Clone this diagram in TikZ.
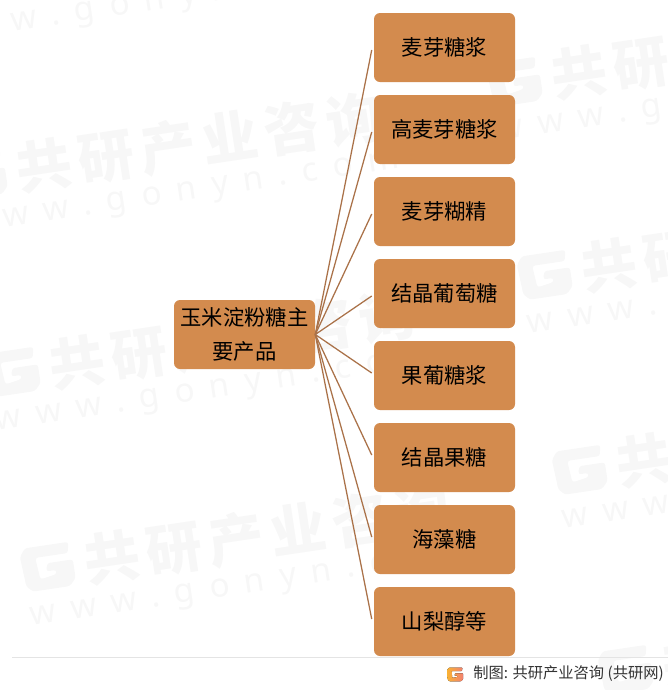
\documentclass[tikz,border=0pt]{standalone}
\usepackage{fontspec}
\setmainfont{Noto Sans CJK SC}
\newfontfamily\wmheadfont[LetterSpace=12]{Noto Sans CJK SC}
\newfontfamily\wmurlfont[LetterSpace=45]{Noto Sans}
\definecolor{boxfill}{HTML}{D38B4E}
\definecolor{edgecol}{HTML}{AA7249}
\definecolor{wmcol}{HTML}{F7F7F7}
\definecolor{rulecol}{HTML}{E4E4E4}
\definecolor{credit}{HTML}{333333}
\definecolor{logoA}{HTML}{F9B233}
\definecolor{logoB}{HTML}{F28070}
\tikzset{
  px/.style={x=0.75pt,y=-0.75pt},
  topicbox/.style={fill=boxfill,rounded corners=4.5pt,minimum width=105.75pt,minimum height=51.75pt,inner sep=0pt,align=center,text width=100pt,font=\fontsize{16pt}{25pt}\selectfont,text=black},
  linkline/.style={draw=edgecol,line width=0.95pt},
  wmhead/.style={text=wmcol,font=\wmheadfont\fontsize{42pt}{42pt}\selectfont\bfseries,rotate=8.5,inner sep=0pt,anchor=west},
  wmurl/.style={text=wmcol,font=\wmurlfont\fontsize{25pt}{25pt}\selectfont,rotate=8.5,inner sep=0pt,anchor=base west},
}
\newcommand{\lowered}[1]{\raisebox{-1.4pt}{#1}}
\newcommand{\gglyph}{(0,-14) -- (6,-22) -- (50,-22) -- (48,-11) -- (15,-11) -- (17,11) -- (34,8) -- (34,4) -- (24,4) -- (26,-4) -- (52,-4) -- (52,15) -- (45,22) -- (8,22) -- (2,16) -- cycle}
\newcommand{\wmark}[3]{%
  \begin{scope}[shift={(#2,#3)},rotate=8.5]
    \fill[wmcol,rounded corners=2pt] \gglyph;
    \node[wmhead] (wh#1) at (63,0) {共研产业咨询};
    \node[wmurl] (wu#1) at (1,55) {www.gonyn.com};
  \end{scope}
}
\begin{document}
\begin{tikzpicture}[px]
\useasboundingbox (0,0) rectangle (668,690);
\begin{scope}
\clip (0,0) rectangle (668,690);
\begin{scope}[shift={(-78,-11)},rotate=8.5]
  \node[wmurl] (wub) at (1,55) {www.gonyn.com};
\end{scope}
\wmark{a}{-46}{179}
\wmark{c}{489}{86}
\wmark{d}{519}{279}
\wmark{e}{-13}{376}
\wmark{f}{554}{474}
\wmark{g}{22}{571}
\wmark{h}{600}{674}
\end{scope}
\node[topicbox] (root) at (244.5,334.5) {\lowered{玉米淀粉糖主}\\\lowered{要产品}};
\node[topicbox] (n1) at (444.5,47.5) {\lowered{麦芽糖浆}};
\node[topicbox] (n2) at (444.5,129.5) {\lowered{高麦芽糖浆}};
\node[topicbox] (n3) at (444.5,211.5) {\lowered{麦芽糊精}};
\node[topicbox] (n4) at (444.5,293.5) {\lowered{结晶葡萄糖}};
\node[topicbox] (n5) at (444.5,375.5) {\lowered{果葡糖浆}};
\node[topicbox] (n6) at (444.5,457.5) {\lowered{结晶果糖}};
\node[topicbox] (n7) at (444.5,539.5) {\lowered{海藻糖}};
\node[topicbox] (n8) at (444.5,621.5) {\lowered{山梨醇等}};
\foreach \k in {1,2,3,4}{\draw[linkline] (root.east) -- ([shift={(-2,2.5)}]n\k.west);}
\foreach \k in {5,6,7,8}{\draw[linkline] (root.east) -- ([shift={(-2,-2.5)}]n\k.west);}
\coordinate (ruleL) at (12,657.5);
\coordinate (ruleR) at (668,657.5);
\draw[rulecol,line width=0.75pt] (ruleL) -- (ruleR);
\begin{scope}[shift={(447,674.5)},scale=0.31]
\fill[left color=logoA,right color=logoB,rounded corners=0.5pt] \gglyph;
\end{scope}
\node[anchor=west,inner sep=0pt,text=credit,font=\fontsize{11.45pt}{13pt}\selectfont] (creditline) at (473,674) {制图: 共研产业咨询 (共研网)};
\end{tikzpicture}
\end{document}
